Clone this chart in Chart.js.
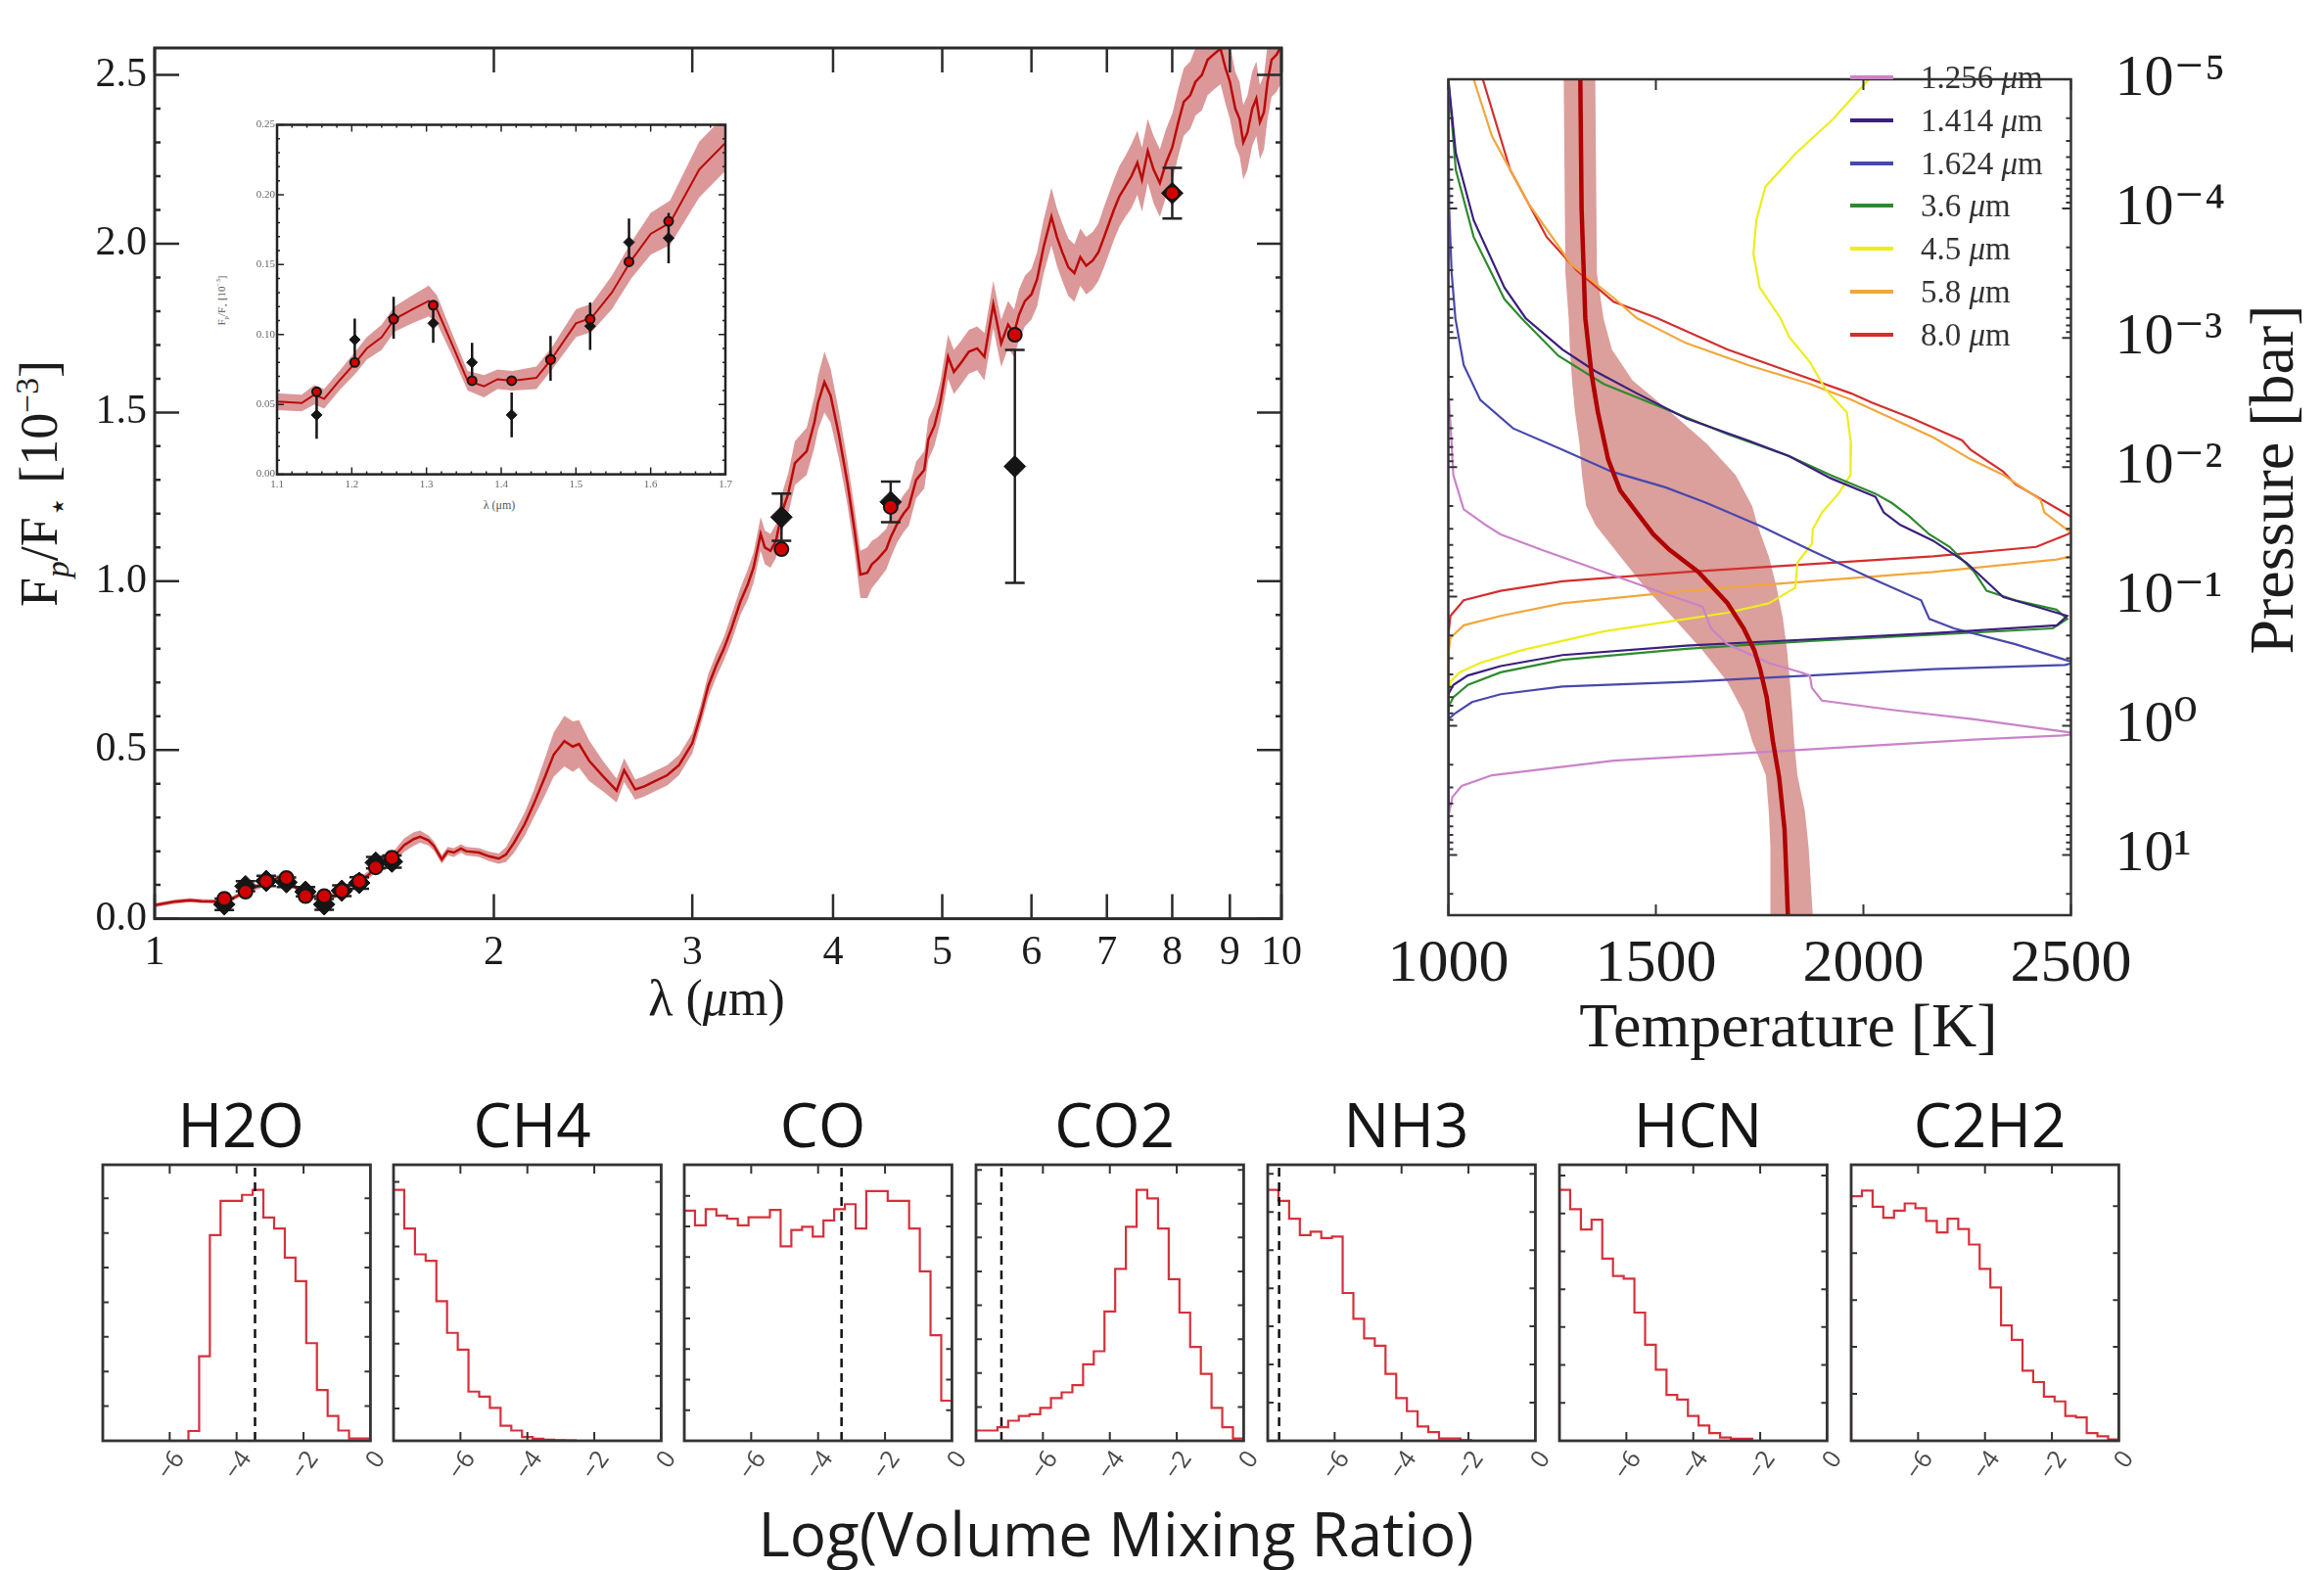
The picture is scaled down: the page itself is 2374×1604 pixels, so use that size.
<!DOCTYPE html>
<html>
<head>
<meta charset="utf-8">
<script src="https://cdn.jsdelivr.net/npm/chart.js@4.4.1/dist/chart.umd.min.js"></script>
<style>
  html, body { margin: 0; padding: 0; background: #fff; }
  #page { position: relative; width: 2374px; height: 1604px; overflow: hidden; background: #fff; }
  #page canvas { position: absolute; }
  .txt { position: absolute; white-space: nowrap; color: #1c1c1c; transform: translate(-50%, -50%); line-height: 1; }
  .rot { transform: translate(-50%, -50%) rotate(-90deg); }
  .serif { font-family: "Liberation Serif", "DejaVu Serif", serif; }
  .sans { font-family: "Open Sans", "DejaVu Sans", sans-serif; }
  sub, sup { font-size: 0.62em; line-height: 0; }
</style>
</head>
<body>
<div id="page">
  <div class="txt serif rot" style="left:40px;top:494px;font-size:54px">F<sub><i>p</i></sub>/F<sub>⋆</sub> [10<sup>−3</sup>]</div>
  <div class="txt serif" style="left:732px;top:1020px;font-size:52px">λ (<i>μ</i>m)</div>
  <div class="txt serif rot" style="left:226px;top:307px;font-size:11px;color:#555">F<sub>p</sub>/F<sub>⋆</sub> [10<sup>−3</sup>]</div>
  <div class="txt serif" style="left:510px;top:516px;font-size:12px;color:#555">λ (μm)</div>
  <div class="txt serif" style="left:1827px;top:1048px;font-size:64px">Temperature [K]</div>
  <div class="txt serif rot" style="left:2321px;top:490px;font-size:64px">Pressure [bar]</div>
  <div class="txt sans" style="left:1140px;top:1566px;font-size:62px">Log(Volume Mixing Ratio)</div>
</div>
<script>
// ---- emission spectrum (Fp/F*, units of 1e-3) ----
const specWave = [
  1.00, 1.04, 1.075, 1.10, 1.133, 1.150, 1.163, 1.185, 1.205, 1.22,
  1.24, 1.257, 1.281, 1.303, 1.314, 1.335, 1.355, 1.377, 1.395, 1.415,
  1.447, 1.468, 1.50, 1.521, 1.548, 1.574, 1.60, 1.626, 1.665, 1.698,
  1.72, 1.75, 1.77, 1.798, 1.82, 1.843, 1.87, 1.89, 1.94, 1.98,
  2.02, 2.05, 2.085, 2.13, 2.17, 2.22, 2.26, 2.31, 2.35, 2.38,
  2.43, 2.50, 2.57, 2.61, 2.67, 2.72, 2.77, 2.85, 2.92, 3.00,
  3.05, 3.10, 3.15, 3.20, 3.25, 3.31, 3.36, 3.40, 3.45, 3.48,
  3.52, 3.56, 3.60, 3.65, 3.70, 3.79, 3.85, 3.88, 3.93, 3.98,
  4.05, 4.12, 4.18, 4.23, 4.29, 4.33, 4.38, 4.46, 4.50, 4.56,
  4.62, 4.67, 4.74, 4.82, 4.86, 4.92, 4.98, 5.06, 5.12, 5.19,
  5.28, 5.37, 5.45, 5.55, 5.64, 5.72, 5.79, 5.85, 5.92, 6.00,
  6.07, 6.15, 6.25, 6.32, 6.39, 6.47, 6.55, 6.63, 6.71, 6.80,
  6.88, 6.96, 7.03, 7.10, 7.18, 7.27, 7.36, 7.45, 7.52, 7.61,
  7.70, 7.80, 7.90, 8.00, 8.10, 8.19, 8.30, 8.39, 8.50, 8.60,
  8.70, 8.83, 8.92, 9.00, 9.10, 9.18, 9.25, 9.33, 9.42, 9.50,
  9.57, 9.65, 9.72, 9.80, 9.90, 10.0
];
const specFlux = [
  0.040, 0.050, 0.055, 0.052, 0.051, 0.057, 0.054, 0.068, 0.080, 0.090,
  0.098, 0.111, 0.118, 0.124, 0.118, 0.092, 0.067, 0.063, 0.068, 0.067,
  0.069, 0.083, 0.108, 0.112, 0.130, 0.153, 0.172, 0.180, 0.218, 0.236,
  0.243, 0.232, 0.215, 0.176, 0.200, 0.196, 0.208, 0.200, 0.196, 0.185,
  0.178, 0.190, 0.226, 0.280, 0.340, 0.420, 0.486, 0.526, 0.510, 0.518,
  0.468, 0.422, 0.380, 0.440, 0.383, 0.392, 0.405, 0.425, 0.455, 0.520,
  0.600, 0.690, 0.750, 0.800, 0.860, 0.940, 0.990, 1.040, 1.140, 1.100,
  1.090, 1.120, 1.200, 1.260, 1.350, 1.385, 1.470, 1.530, 1.590, 1.550,
  1.430, 1.290, 1.150, 1.020, 1.025, 1.050, 1.065, 1.095, 1.130, 1.170,
  1.200, 1.220, 1.300, 1.330, 1.420, 1.460, 1.530, 1.665, 1.620, 1.645,
  1.680, 1.690, 1.665, 1.820, 1.705, 1.760, 1.735, 1.790, 1.830, 1.850,
  1.895, 1.990, 2.080, 2.020, 1.975, 1.930, 1.913, 1.960, 1.935, 1.950,
  1.975, 2.020, 2.060, 2.100, 2.140, 2.170, 2.200, 2.240, 2.190, 2.275,
  2.220, 2.180, 2.240, 2.285, 2.360, 2.420, 2.440, 2.480, 2.500, 2.545,
  2.560, 2.578, 2.520, 2.480, 2.400, 2.370, 2.300, 2.330, 2.400, 2.430,
  2.360, 2.390, 2.480, 2.545, 2.560, 2.586
];
// half width of the shaded model spread
const specSpread = [
  0.006, 0.006, 0.006, 0.006, 0.006, 0.007, 0.007, 0.007, 0.008, 0.008,
  0.009, 0.009, 0.010, 0.011, 0.010, 0.008, 0.007, 0.008, 0.007, 0.007,
  0.008, 0.008, 0.010, 0.010, 0.012, 0.013, 0.015, 0.016, 0.020, 0.020,
  0.018, 0.015, 0.014, 0.013, 0.013, 0.013, 0.013, 0.013, 0.013, 0.014,
  0.015, 0.022, 0.030, 0.035, 0.040, 0.055, 0.065, 0.075, 0.075, 0.070,
  0.060, 0.045, 0.035, 0.035, 0.030, 0.030, 0.030, 0.030, 0.030, 0.030,
  0.030, 0.035, 0.035, 0.035, 0.040, 0.040, 0.045, 0.045, 0.050, 0.050,
  0.050, 0.050, 0.055, 0.060, 0.065, 0.070, 0.075, 0.080, 0.090, 0.080,
  0.070, 0.065, 0.065, 0.070, 0.075, 0.070, 0.065, 0.060, 0.060, 0.055,
  0.055, 0.055, 0.055, 0.055, 0.060, 0.060, 0.060, 0.065, 0.065, 0.065,
  0.065, 0.065, 0.070, 0.070, 0.070, 0.070, 0.070, 0.075, 0.075, 0.075,
  0.080, 0.080, 0.085, 0.085, 0.085, 0.085, 0.085, 0.085, 0.085, 0.085,
  0.085, 0.090, 0.090, 0.090, 0.090, 0.090, 0.095, 0.095, 0.095, 0.095,
  0.100, 0.100, 0.100, 0.100, 0.100, 0.100, 0.100, 0.100, 0.105, 0.105,
  0.105, 0.105, 0.105, 0.110, 0.110, 0.110, 0.110, 0.110, 0.110, 0.110,
  0.110, 0.110, 0.110, 0.110, 0.110, 0.110
];

// observed eclipse depths (WFC3 + Spitzer) and binned model
const obsWave  = [1.153, 1.204, 1.256, 1.309, 1.361, 1.414, 1.466, 1.519, 1.571, 1.624, 3.6, 4.5, 5.8, 8.0];
const obsFlux  = [0.0425, 0.0963, 0.112, 0.108, 0.080, 0.0425, 0.083, 0.106, 0.166, 0.169, 1.19, 1.235, 1.34, 2.15];
const obsErr   = [0.017, 0.015, 0.015, 0.014, 0.014, 0.016, 0.016, 0.017, 0.017, 0.018, 0.07, 0.06, 0.345, 0.075];
const modelFlux = [0.059, 0.080, 0.111, 0.121, 0.067, 0.067, 0.082, 0.111, 0.152, 0.181, 1.095, 1.22, 1.73, 2.15];

const specXTicks = [1, 2, 3, 4, 5, 6, 7, 8, 9, 10];
const specYTicks = [0, 0.5, 1.0, 1.5, 2.0, 2.5];
const insetXTicks = [1.1, 1.2, 1.3, 1.4, 1.5, 1.6, 1.7];
const insetYTicks = [0, 0.05, 0.10, 0.15, 0.20, 0.25];

// ---- temperature-pressure profile (log10 P in bar) ----
const tpLogP = [-5.0, -4.0, -3.15, -2.72, -2.43, -2.06, -1.82, -1.65, -1.48, -1.36, -1.19, -0.95, -0.75, -0.585, -0.44, -0.22, 0.12, 0.40, 0.80, 1.20, 1.465];
const tpTemp = [1318, 1321, 1330, 1345, 1360, 1385, 1414, 1454, 1494, 1533, 1602, 1672, 1712, 1737, 1751, 1767, 1782, 1797, 1810, 1815, 1818];
const bandLogP = [-5.0, -3.5, -3.15, -2.91, -2.67, -2.43, -2.18, -1.94, -1.70, -1.55, -1.31, -1.07, -0.83, -0.585, -0.34, -0.10, 0.12, 0.38, 0.66, 0.94, 1.465];
const bandLo = [1278, 1282, 1290, 1293, 1298, 1305, 1316, 1322, 1332, 1355, 1414, 1474, 1543, 1612, 1672, 1712, 1732, 1765, 1772, 1776, 1776];
const bandHi = [1354, 1358, 1374, 1394, 1444, 1534, 1623, 1692, 1732, 1745, 1772, 1791, 1806, 1816, 1823, 1829, 1833, 1841, 1859, 1868, 1878];

// contribution functions drawn on the temperature axis
const cf1256T = [1000, 1000, 1007, 1012, 1037, 1090, 1126, 1225, 1374, 1523, 1612, 1633, 1672, 1772, 1850, 1871, 1876, 1900, 2069, 2267, 2486, 2520, 2480, 2277, 1838, 1398, 1105, 1032, 1010, 1000, 1000];
const cf1256P = [-5.0, -2.6, -2.23, -1.94, -1.674, -1.553, -1.48, -1.36, -1.19, -1.02, -0.922, -0.753, -0.631, -0.486, -0.413, -0.389, -0.292, -0.195, -0.123, -0.05, 0.047, 0.06, 0.075, 0.105, 0.188, 0.27, 0.383, 0.466, 0.55, 0.7, 1.465];
const cf1414T = [1000, 1018, 1061, 1135, 1186, 1275, 1355, 1454, 1573, 1722, 1821, 1920, 2029, 2049, 2089, 2168, 2248, 2337, 2416, 2491, 2466, 2168, 1871, 1573, 1275, 1126, 1047, 1012, 1000, 1000];
const cf1414P = [-5.0, -4.43, -3.91, -3.39, -3.153, -2.91, -2.74, -2.571, -2.377, -2.207, -2.086, -1.916, -1.771, -1.65, -1.553, -1.431, -1.262, -0.995, -0.922, -0.85, -0.777, -0.716, -0.668, -0.62, -0.547, -0.462, -0.389, -0.316, -0.244, 1.465];
const cf1624T = [1000, 1002, 1008, 1017, 1037, 1077, 1156, 1275, 1394, 1523, 1623, 1755, 1871, 2020, 2139, 2159, 2218, 2366, 2486, 2510, 2486, 2168, 1871, 1573, 1275, 1126, 1057, 1017, 1000, 1000];
const cf1624P = [-5.0, -4.0, -3.5, -3.15, -2.79, -2.52, -2.30, -2.135, -1.965, -1.844, -1.722, -1.54, -1.36, -1.14, -0.971, -0.826, -0.753, -0.631, -0.51, -0.49, -0.47, -0.438, -0.389, -0.34, -0.304, -0.244, -0.183, -0.098, -0.05, 1.465];
const cf36T = [1000, 1018, 1061, 1135, 1176, 1265, 1374, 1523, 1672, 1821, 1920, 2029, 2069, 2109, 2159, 2208, 2267, 2297, 2366, 2465, 2491, 2456, 2168, 1871, 1573, 1275, 1126, 1047, 1012, 1000, 1000];
const cf36P = [-5.0, -4.30, -3.78, -3.30, -3.153, -2.862, -2.644, -2.45, -2.256, -2.086, -1.94, -1.795, -1.722, -1.625, -1.48, -1.383, -1.19, -1.044, -0.971, -0.898, -0.826, -0.753, -0.704, -0.656, -0.595, -0.51, -0.413, -0.316, -0.22, -0.147, 1.465];
const cf45T = [2013, 1926, 1838, 1764, 1742, 1735, 1750, 1800, 1821, 1871, 1910, 1960, 1970, 1969, 1940, 1900, 1878, 1876, 1841, 1836, 1772, 1672, 1573, 1374, 1176, 1077, 1027, 1005, 1000, 1000];
const cf45P = [-5.0, -4.69, -4.43, -4.17, -3.91, -3.65, -3.39, -3.153, -3.007, -2.813, -2.595, -2.425, -2.183, -1.94, -1.795, -1.65, -1.52, -1.407, -1.262, -1.068, -0.947, -0.874, -0.826, -0.729, -0.584, -0.486, -0.413, -0.34, -0.25, 1.465];
const cf58T = [1061, 1105, 1193, 1296, 1398, 1454, 1573, 1722, 1871, 1970, 2069, 2168, 2258, 2337, 2427, 2436, 2496, 2520, 2500, 2466, 2168, 1871, 1573, 1275, 1126, 1037, 1005, 1000, 1000];
const cf58P = [-5.0, -4.56, -4.04, -3.57, -3.31, -3.153, -2.959, -2.789, -2.644, -2.522, -2.377, -2.231, -2.062, -1.94, -1.747, -1.65, -1.504, -1.42, -1.31, -1.286, -1.19, -1.117, -1.044, -0.947, -0.85, -0.777, -0.68, -0.55, 1.465];
const cf80T = [1083, 1149, 1237, 1310, 1398, 1503, 1672, 1821, 1970, 2020, 2118, 2238, 2258, 2337, 2366, 2496, 2540, 2491, 2416, 2168, 1871, 1573, 1275, 1126, 1037, 1005, 1000, 1000];
const cf80P = [-5.0, -4.30, -3.78, -3.52, -3.28, -3.153, -2.91, -2.74, -2.571, -2.5, -2.377, -2.207, -2.135, -1.965, -1.868, -1.625, -1.55, -1.48, -1.383, -1.31, -1.25, -1.19, -1.117, -1.044, -0.971, -0.85, -0.7, 1.465];
const cfLabels = ['1.256 μm', '1.414 μm', '1.624 μm', '3.6 μm', '4.5 μm', '5.8 μm', '8.0 μm'];
const cfColors = ['#c983c9', '#3a1f7c', '#4848ad', '#2e8b2e', '#eded1e', '#f2a63c', '#d42e2e'];
const tpXTicks = [1000, 1500, 2000, 2500];
const tpYExp = [-5, -4, -3, -2, -1, 0, 1];

// ---- posterior histograms of log10 mixing ratio ----
const binEdges = [-8, -7.68, -7.36, -7.04, -6.72, -6.4, -6.08, -5.76, -5.44, -5.12, -4.8, -4.48, -4.16,
                  -3.84, -3.52, -3.2, -2.88, -2.56, -2.24, -1.92, -1.6, -1.28, -0.96, -0.64, -0.32, 0];
const histH2O  = [0, 0, 0, 0, 0, 0, 0, 0, 0.039, 0.337, 0.82, 0.956, 0.956, 0.98, 1.0, 0.89, 0.846, 0.73, 0.636, 0.389, 0.202, 0.099, 0.041, 0.009, 0.009];
const histCH4  = [1.0, 0.846, 0.743, 0.717, 0.556, 0.43, 0.363, 0.196, 0.176, 0.131, 0.06, 0.041, 0.015, 0.008, 0.004, 0.003, 0.002, 0, 0, 0, 0, 0, 0, 0, 0];
const histCO   = [0.917, 0.859, 0.923, 0.898, 0.885, 0.859, 0.891, 0.891, 0.92, 0.775, 0.84, 0.853, 0.814, 0.878, 0.923, 0.943, 0.846, 0.995, 0.995, 0.956, 0.956, 0.846, 0.675, 0.421, 0.16];
const histCO2  = [0.041, 0.041, 0.054, 0.08, 0.099, 0.106, 0.131, 0.17, 0.193, 0.222, 0.305, 0.357, 0.515, 0.685, 0.853, 1.0, 0.966, 0.846, 0.644, 0.511, 0.374, 0.267, 0.131, 0.054, 0.009];
const histNH3  = [1.0, 0.956, 0.885, 0.82, 0.833, 0.808, 0.814, 0.589, 0.486, 0.408, 0.379, 0.267, 0.17, 0.118, 0.057, 0.035, 0.009, 0.009, 0.003, 0, 0, 0, 0, 0, 0];
const histHCN  = [1.0, 0.923, 0.842, 0.881, 0.726, 0.657, 0.646, 0.511, 0.383, 0.283, 0.183, 0.164, 0.099, 0.061, 0.031, 0.013, 0.008, 0.008, 0, 0, 0, 0, 0, 0, 0];
const histC2H2 = [0.975, 0.997, 0.933, 0.889, 0.917, 0.946, 0.927, 0.876, 0.83, 0.885, 0.844, 0.782, 0.685, 0.611, 0.46, 0.402, 0.279, 0.234, 0.176, 0.157, 0.099, 0.093, 0.031, 0.018, 0.005];
const histNames = ['H2O', 'CH4', 'CO', 'CO2', 'NH3', 'HCN', 'C2H2'];
const histMarker = [-3.45, null, -3.3, -7.24, -7.66, null, null];
const histXTicks = [-6, -4, -2, 0];

// ---------------------------------------------------------------
const SERIF = '"Liberation Serif", "DejaVu Serif", serif';
const SANS = '"Open Sans", "DejaVu Sans", sans-serif';
const page = document.getElementById('page');

const makeCanvas = (id, left, top, w, h) => {
    const c = document.createElement('canvas');
    c.id = id;
    c.width = w;
    c.height = h;
    c.style.left = left + 'px';
    c.style.top = top + 'px';
    c.style.width = w + 'px';
    c.style.height = h + 'px';
    page.appendChild(c);
    return c;
};

// box frame with inward ticks on all four sides
const framePlugin = (id, spec) => ({
    id,
    afterDatasetsDraw(chart) {
        const {ctx, chartArea: a} = chart;
        const xs = chart.scales.x, ys = chart.scales.y;
        ctx.save();
        ctx.strokeStyle = spec.color;
        ctx.lineWidth = spec.tickWidth;
        ctx.beginPath();
        spec.xTicks.forEach(([vals, len]) => vals.forEach(v => {
            const px = xs.getPixelForValue(v);
            ctx.moveTo(px, a.bottom); ctx.lineTo(px, a.bottom - len);
            ctx.moveTo(px, a.top); ctx.lineTo(px, a.top + len);
        }));
        spec.yTicks.forEach(([vals, len]) => vals.forEach(v => {
            const py = ys.getPixelForValue(v);
            ctx.moveTo(a.left, py); ctx.lineTo(a.left + len, py);
            ctx.moveTo(a.right, py); ctx.lineTo(a.right - len, py);
        }));
        ctx.stroke();
        ctx.lineWidth = spec.frameWidth;
        ctx.strokeRect(a.left, a.top, a.right - a.left, a.bottom - a.top);
        ctx.restore();
    }
});

// vertical error bars, drawn just before the marker dataset
const errorBarPlugin = (id, spec) => ({
    id,
    beforeDatasetDraw(chart, args) {
        if (args.index !== spec.index) return;
        const {ctx, chartArea: a} = chart;
        const xs = chart.scales.x, ys = chart.scales.y;
        ctx.save();
        ctx.beginPath();
        ctx.rect(a.left, a.top, a.right - a.left, a.bottom - a.top);
        ctx.clip();
        ctx.strokeStyle = spec.color;
        ctx.lineWidth = spec.width;
        ctx.beginPath();
        obsWave.forEach((w, i) => {
            const px = xs.getPixelForValue(w);
            const y1 = ys.getPixelForValue(obsFlux[i] - obsErr[i]);
            const y2 = ys.getPixelForValue(obsFlux[i] + obsErr[i]);
            ctx.moveTo(px, y1); ctx.lineTo(px, y2);
            if (spec.cap) {
                ctx.moveTo(px - spec.cap, y1); ctx.lineTo(px + spec.cap, y1);
                ctx.moveTo(px - spec.cap, y2); ctx.lineTo(px + spec.cap, y2);
            }
        });
        ctx.stroke();
        ctx.restore();
    }
});

const fixTicks = vals => scale => { scale.ticks = vals.map(v => ({value: v})); };
const noGrid = {display: false, drawTicks: false};

const specPts = specWave.map((w, i) => ({x: w, y: specFlux[i]}));
const spreadPts = specWave.map((w, i) => ({x: w, y: specFlux[i] - specSpread[i]}))
    .concat(specWave.map((w, i) => ({x: w, y: specFlux[i] + specSpread[i]})).reverse());
const obsPts = obsWave.map((w, i) => ({x: w, y: obsFlux[i]}));
const modelPts = obsWave.map((w, i) => ({x: w, y: modelFlux[i]}));

const spectrumDatasets = (circleR, diamondR, lineW) => [
    {data: modelPts, pointStyle: 'circle', pointRadius: circleR, backgroundColor: '#d10000',
     borderColor: '#151515', borderWidth: 2, order: 0},
    {data: obsPts, pointStyle: 'rectRot', pointRadius: diamondR, backgroundColor: '#151515',
     borderColor: '#151515', borderWidth: 1, order: 1},
    {data: specPts, showLine: true, pointRadius: 0, borderColor: '#bb0a0a', borderWidth: lineW, order: 2},
    {data: spreadPts, showLine: true, pointRadius: 0, borderColor: 'rgba(0,0,0,0)', fill: 'shape',
     backgroundColor: 'rgba(185,50,50,0.5)', order: 3}
];

const baseOptions = {
    responsive: false,
    animation: false,
    devicePixelRatio: 1,
    events: [],
    plugins: {legend: {display: false}, tooltip: {enabled: false}}
};

// ---- main spectrum panel ----
const specMinor = [];
for (let v = 0.1; v < 2.58; v += 0.1) {
    if (Math.abs(v / 0.5 - Math.round(v / 0.5)) > 0.01) specMinor.push(v);
}
new Chart(makeCanvas('spectrum', 0, 0, 1340, 1000), {
    type: 'scatter',
    data: {datasets: spectrumDatasets(7, 11, 2.5)},
    options: {
        ...baseOptions,
        layout: {padding: {left: 58, top: 49, right: 30, bottom: 0}, autoPadding: false},
        scales: {
            x: {type: 'logarithmic', min: 1, max: 10, grid: noGrid, border: {display: false},
                afterBuildTicks: fixTicks(specXTicks), afterFit: s => { s.height = 61.4; },
                ticks: {font: {family: SERIF, size: 42}, color: '#1c1c1c', padding: 10,
                        maxRotation: 0, autoSkip: false, callback: v => String(v)}},
            y: {min: 0, max: 2.58, grid: noGrid, border: {display: false},
                afterBuildTicks: fixTicks(specYTicks), afterFit: s => { s.width = 100; },
                ticks: {font: {family: SERIF, size: 42}, color: '#1c1c1c', padding: 8,
                        callback: v => v.toFixed(1)}}
        }
    },
    plugins: [
        framePlugin('specFrame', {color: '#2b2b2b', tickWidth: 2.5, frameWidth: 3,
            xTicks: [[specXTicks, 25]], yTicks: [[specYTicks, 25], [specMinor, 6]]}),
        errorBarPlugin('specErr', {index: 1, color: '#222', width: 2.5, cap: 10})
    ]
});

// ---- inset: WFC3 band ----
const insetXMinor = [], insetYMinor = [];
for (let v = 1.12; v < 1.7; v += 0.02) insetXMinor.push(v);
for (let v = 0.01; v < 0.25; v += 0.01) insetYMinor.push(v);
new Chart(makeCanvas('inset', 230, 110, 530, 400), {
    type: 'scatter',
    data: {datasets: spectrumDatasets(4.5, 5.5, 2)},
    options: {
        ...baseOptions,
        layout: {padding: {left: 23, top: 17.5, right: 19, bottom: 0}, autoPadding: false},
        scales: {
            x: {min: 1.1, max: 1.7, grid: noGrid, border: {display: false},
                afterBuildTicks: fixTicks(insetXTicks), afterFit: s => { s.height = 25.4; },
                ticks: {font: {family: SERIF, size: 11}, color: '#666', padding: 4,
                        maxRotation: 0, autoSkip: false, callback: v => v.toFixed(1)}},
            y: {min: 0, max: 0.25, grid: noGrid, border: {display: false},
                afterBuildTicks: fixTicks(insetYTicks), afterFit: s => { s.width = 30; },
                ticks: {font: {family: SERIF, size: 11}, color: '#666', padding: 2,
                        callback: v => v.toFixed(2)}}
        }
    },
    plugins: [
        framePlugin('insetFrame', {color: '#222', tickWidth: 1.5, frameWidth: 2.5,
            xTicks: [[insetXTicks, 7], [insetXMinor, 3]], yTicks: [[insetYTicks, 7], [insetYMinor, 3]]}),
        errorBarPlugin('insetErr', {index: 1, color: '#151515', width: 2.5, cap: 0})
    ]
});

// ---- T-P profile panel ----
const sup = {'-': '⁻', '0': '⁰', '1': '¹', '2': '²', '3': '³', '4': '⁴', '5': '⁵'};
const tpMax = Math.pow(10, 1.465);
const tpMajor = tpYExp.map(e => Math.pow(10, e));
const tpMinor = [];
tpYExp.forEach(e => { for (let m = 2; m <= 9; m++) { const v = m * Math.pow(10, e); if (v < tpMax) tpMinor.push(v); } });
const toPts = (T, P) => T.map((t, i) => ({x: t, y: Math.pow(10, P[i])}));
const cfSets = [[cf1256T, cf1256P], [cf1414T, cf1414P], [cf1624T, cf1624P], [cf36T, cf36P],
                [cf45T, cf45P], [cf58T, cf58P], [cf80T, cf80P]];
const bandPts = toPts(bandLo, bandLogP).concat(toPts(bandHi, bandLogP).reverse());

new Chart(makeCanvas('tp', 1380, 0, 960, 1110), {
    type: 'scatter',
    data: {
        datasets: [
            {data: toPts(tpTemp, tpLogP), showLine: true, pointRadius: 0, borderColor: '#b00000',
             borderWidth: 4.5, order: 0},
            ...cfSets.map(([T, P], i) => ({data: toPts(T, P), showLine: true, pointRadius: 0,
                borderColor: cfColors[i], borderWidth: 2.2, order: 1})),
            {data: bandPts, showLine: true, pointRadius: 0, borderColor: 'rgba(0,0,0,0)', fill: 'shape',
             backgroundColor: 'rgba(190,80,75,0.55)', order: 5}
        ]
    },
    options: {
        ...baseOptions,
        layout: {padding: {left: 99.5, top: 46, right: 44.5, bottom: 75}, autoPadding: false},
        scales: {
            x: {min: 1000, max: 2500, grid: noGrid, border: {display: false},
                afterBuildTicks: fixTicks(tpXTicks), afterFit: s => { s.height = 100; },
                ticks: {font: {family: SERIF, size: 62}, color: '#1c1c1c', padding: 14,
                        maxRotation: 0, autoSkip: false, callback: v => String(v)}},
            y: {type: 'logarithmic', position: 'right', reverse: true, min: 1e-5, max: tpMax,
                grid: noGrid, border: {display: false},
                afterBuildTicks: fixTicks(tpMajor), afterFit: s => { s.width = 180; },
                ticks: {font: {family: SERIF, size: 60}, color: '#1c1c1c', padding: 45,
                        callback: v => '10' + String(Math.round(Math.log10(v))).split('').map(c => sup[c]).join('')}}
        }
    },
    plugins: [
        framePlugin('tpFrame', {color: '#333', tickWidth: 2, frameWidth: 2.5,
            xTicks: [[tpXTicks, 11]], yTicks: [[tpMajor, 9], [tpMinor, 5]]})
    ]
});

// legend for the contribution functions
cfLabels.forEach((lab, i) => {
    const y = 79 + i * 43.8;
    const ln = document.createElement('div');
    ln.style.cssText = `position:absolute;left:1890px;top:${y - 2}px;width:44px;height:4px;background:${cfColors[i]}`;
    page.appendChild(ln);
    const tx = document.createElement('div');
    tx.className = 'serif';
    tx.style.cssText = `position:absolute;left:1962px;top:${y}px;transform:translateY(-50%);font-size:33px;color:#333;white-space:nowrap;line-height:1`;
    tx.innerHTML = lab.replace('μm', '<i>μ</i>m');
    page.appendChild(tx);
});

// ---- histograms ----
const histData = [histH2O, histCH4, histCO, histCO2, histNH3, histHCN, histC2H2];
const histLeft = [104.6, 402, 699, 997, 1295, 1593, 1891];
const histTickStep = [0.138, 0.129, 0.122, 0.135, 0.152, 0.151, 0.187];

const stepPoints = h => {
    const pts = [{x: binEdges[0], y: 0}];
    h.forEach((v, i) => pts.push({x: binEdges[i], y: v}));
    pts.push({x: binEdges[binEdges.length - 1], y: h[h.length - 1]});
    pts.push({x: binEdges[binEdges.length - 1], y: 0});
    return pts;
};

histNames.forEach((name, k) => {
    const left = histLeft[k];
    const title = document.createElement('div');
    title.className = 'txt sans';
    title.style.cssText = `left:${left + 141.5}px;top:1148px;font-size:62px;color:#151515`;
    title.textContent = name;
    page.appendChild(title);

    const yt = [];
    for (let v = histTickStep[k]; v < 1.09; v += histTickStep[k]) yt.push(v);
    const datasets = [
        {data: stepPoints(histData[k]), showLine: true, stepped: true, pointRadius: 0,
         borderColor: '#d7303a', borderWidth: 2.2, order: 1}
    ];
    if (histMarker[k] !== null) {
        datasets.push({data: [{x: histMarker[k], y: 0}, {x: histMarker[k], y: 1.1}], showLine: true,
            pointRadius: 0, borderColor: '#111', borderWidth: 2.5, borderDash: [9, 6], order: 0});
    }
    new Chart(makeCanvas('hist' + name, left - 20, 1174, 323, 377), {
        type: 'scatter',
        data: {datasets},
        options: {
            ...baseOptions,
            layout: {padding: {left: 20, top: 16, right: 20, bottom: 0}, autoPadding: false},
            scales: {
                x: {min: -8, max: 0, grid: noGrid, border: {display: false},
                    afterBuildTicks: fixTicks(histXTicks), afterFit: s => { s.height = 79; },
                    ticks: {font: {family: SANS, size: 25}, color: '#4a4a4a', padding: 5, autoSkip: false,
                            minRotation: 55, maxRotation: 55, labelOffset: 10,
                            callback: v => (v < 0 ? '\u2212' + Math.abs(v) : String(v))}},
                y: {display: false, min: 0, max: 1.1}
            }
        },
        plugins: [
            framePlugin('histFrame' + k, {color: '#333', tickWidth: 2, frameWidth: 2.8,
                xTicks: [[[-6, -4, -2], 9]], yTicks: [[yt, 6]]})
        ]
    });
});
</script>
</body>
</html>
